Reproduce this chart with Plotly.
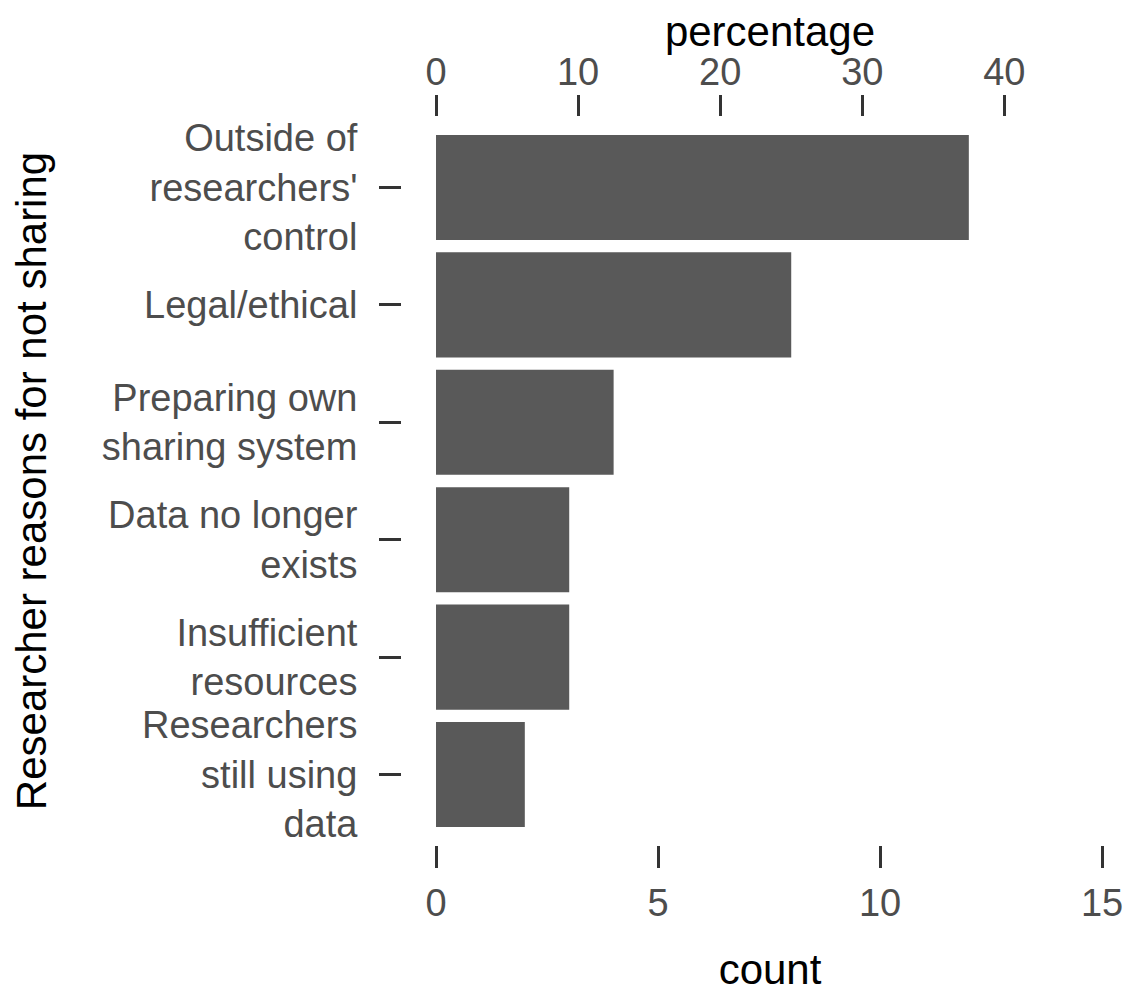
import plotly.graph_objects as go

categories = [
    "Outside of<br>researchers'<br>control",
    "Legal/ethical",
    "Preparing own<br>sharing system",
    "Data no longer<br>exists",
    "Insufficient<br>resources",
    "Researchers<br>still using<br>data",
]
counts = [12, 8, 4, 3, 3, 2]
count_ticks = [0, 5, 10, 15]
pct_ticks = [0, 10, 20, 30, 40]

total = sum(counts)
pcts = [c / total * 100 for c in counts]

FONT = "Liberation Sans, Arial, Helvetica, sans-serif"
TICKC = "#4D4D4D"
BAR = "#595959"

x_lo, x_hi = -0.766, 15.81
scale = 100.0 / total

fig = go.Figure()
fig.add_trace(go.Bar(
    x=counts, y=categories, orientation="h",
    marker=dict(color=BAR, line=dict(width=0)),
    width=0.895, xaxis="x", yaxis="y", showlegend=False,
))
fig.add_trace(go.Scatter(
    x=pcts, y=categories, mode="markers",
    marker=dict(opacity=0), xaxis="x2", yaxis="y",
    showlegend=False, hoverinfo="skip",
))

fig.update_layout(
    width=1133, height=985,
    margin=dict(l=394, r=3, t=109, b=148),
    paper_bgcolor="white", plot_bgcolor="white",
    font=dict(family=FONT, size=38, color=TICKC),
    xaxis=dict(
        range=[x_lo, x_hi], tickvals=count_ticks, automargin=False,
        showgrid=False, zeroline=False, showline=False,
        ticks="outside", ticklen=22, tickwidth=3, tickcolor="#333333",
        tickfont=dict(size=38, color=TICKC), ticklabelstandoff=2,
        title=dict(text="count", font=dict(size=42, color="black"), standoff=42),
    ),
    xaxis2=dict(
        range=[x_lo * scale, x_hi * scale], tickvals=pct_ticks, automargin=False,
        overlaying="x", side="top", anchor="y",
        showgrid=False, zeroline=False, showline=False,
        ticks="outside", ticklen=21, tickwidth=3, tickcolor="#333333",
        tickfont=dict(size=38, color=TICKC), ticklabelstandoff=-5,
        title=dict(text="percentage", font=dict(size=42, color="black"), standoff=19),
    ),
    yaxis=dict(
        type="category", categoryorder="array", categoryarray=categories,
        range=[5.6, -0.6], automargin=False,
        showgrid=False, zeroline=False, showline=False,
        ticks="outside", ticklen=22, tickwidth=3, tickcolor="#333333",
        tickfont=dict(size=38, color=TICKC), ticklabelstandoff=14,
        title=dict(text="Researcher reasons for not sharing",
                   font=dict(size=42, color="black"), standoff=44),
    ),
)

fig.write_html("out.html")
